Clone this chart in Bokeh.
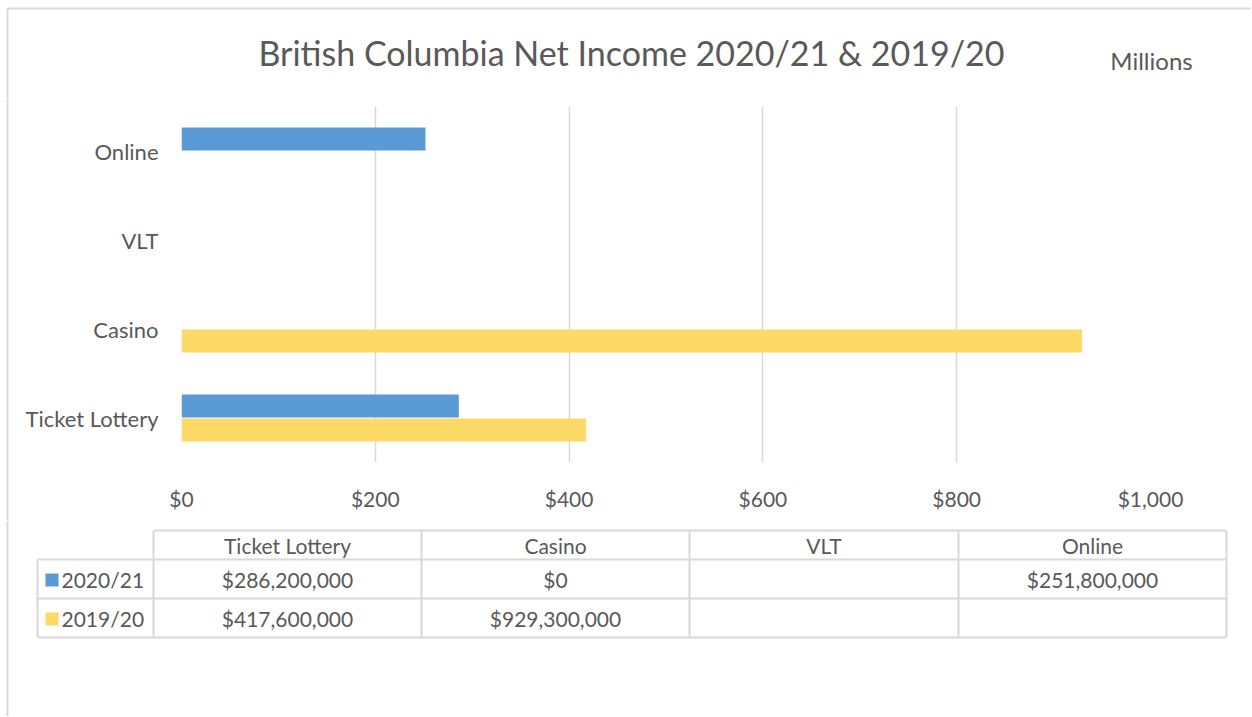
from bokeh.plotting import figure
from bokeh.models import (FactorRange, Range1d, FixedTicker, NumeralTickFormatter,
                          ColumnDataSource)
from bokeh.transform import dodge
from bokeh.layouts import column, row
from bokeh.core.properties import value
from bokeh.embed import file_html
from bokeh.resources import INLINE

# ---------------- data ----------------
categories = ["Ticket Lottery", "Casino", "VLT", "Online"]
series_names = ["2020/21", "2019/20"]
values_2020_21 = [286.2, 0.0, None, 251.8]      # $ millions
values_2019_20 = [417.6, 929.3, None, None]     # $ millions
series_colors = ["#5B9BD5", "#FFD966"]
x_ticks = [0, 200, 400, 600, 800, 1000]
title_text = "British Columbia Net Income 2020/21 & 2019/20"
unit_text = "Millions"

FONT = "Lato"
TXT = "#595959"
GRID = "#D9D9D9"

def nan(v):
    return float("nan") if v is None else v

def money(v):
    return "" if v is None else "${:,.0f}".format(v * 1e6)

def no_align(fig):
    if "frame_align" in fig.properties():
        fig.frame_align = False

def blank(fig):
    fig.outline_line_color = None
    fig.grid.visible = False
    no_align(fig)

W = 1250
H_HEAD, H_CHART, H_TAB = 98, 422, 196
BX, BY = 7, 8      # outer chart border position
STRIP = 10         # width of the left strip next to the chart

# ---------------- header figure (title) ----------------
h = figure(width=W, height=H_HEAD, x_range=Range1d(0, W), y_range=Range1d(H_HEAD, 0),
           output_backend="svg", toolbar_location=None, x_axis_type=None, y_axis_type=None,
           min_border=0)
blank(h)
h.segment(x0=[BX, BX], x1=[W, BX], y0=[BY, BY], y1=[BY, H_HEAD], line_color=GRID, line_width=2)
h.text(x=[631], y=[52], text=[title_text], text_align="center", text_baseline="middle",
       text_font=value(FONT), text_font_size="34px", text_color=TXT)
h.text(x=[1151], y=[60], text=[unit_text], text_align="center", text_baseline="middle",
       text_font=value(FONT), text_font_size="24px", text_color=TXT)

# ---------------- left strip (border beside chart) ----------------
s = figure(width=STRIP, height=H_CHART, x_range=Range1d(0, STRIP), y_range=Range1d(0, H_CHART),
           output_backend="svg", toolbar_location=None, x_axis_type=None, y_axis_type=None,
           min_border=0)
blank(s)
s.segment(x0=[BX], x1=[BX], y0=[0], y1=[H_CHART], line_color=GRID, line_width=2)

# ---------------- chart figure ----------------
p = figure(width=W - STRIP, height=H_CHART, y_range=FactorRange(factors=categories),
           x_range=Range1d(0, 1000), output_backend="svg", toolbar_location=None,
           min_border_left=181 - STRIP, min_border_right=W - 1150, min_border_top=8,
           min_border_bottom=58)
p.outline_line_color = None
no_align(p)

src = ColumnDataSource(dict(cat=categories,
                            a=[nan(v) for v in values_2020_21],
                            b=[nan(v) for v in values_2019_20]))
p.hbar(y=dodge("cat", 0.135, range=p.y_range), right="a", left=0, height=0.26,
       source=src, fill_color=series_colors[0], line_color=None)
p.hbar(y=dodge("cat", -0.135, range=p.y_range), right="b", left=0, height=0.26,
       source=src, fill_color=series_colors[1], line_color=None)

ticker = FixedTicker(ticks=x_ticks)
p.xaxis.ticker = ticker
p.xaxis.formatter = NumeralTickFormatter(format="$0,0")
p.xgrid.ticker = ticker
p.xgrid.grid_line_color = GRID
p.xgrid.grid_line_width = 1.5
p.ygrid.visible = False

for ax in (p.xaxis, p.yaxis):
    ax.axis_line_color = None
    ax.major_tick_line_color = None
    ax.minor_tick_line_color = None
    ax.major_tick_out = 0
    ax.major_tick_in = 0
    ax.minor_tick_out = 0
    ax.major_label_text_font = FONT
    ax.major_label_text_color = TXT
p.xaxis.major_label_text_font_size = "21px"
p.yaxis.major_label_text_font_size = "22px"
p.xaxis.major_label_standoff = 23
p.yaxis.major_label_standoff = 23

# ---------------- data table figure ----------------
Y0 = H_HEAD + H_CHART
t = figure(width=W, height=H_TAB, x_range=Range1d(0, W), y_range=Range1d(Y0 + H_TAB, Y0),
           output_backend="svg", toolbar_location=None, x_axis_type=None, y_axis_type=None,
           min_border=0)
blank(t)

col_x = [153, 421, 689, 958, 1226]
leg_left = 37
y_head_top, y_head_bot, y_r1, y_r2 = 530, 559, 598, 637
row_mid = [(y_head_bot + y_r1) / 2, (y_r1 + y_r2) / 2]
head_mid = (y_head_top + y_head_bot) / 2
col_mid = [(col_x[i] + col_x[i + 1]) / 2 for i in range(len(categories))]

t.segment(x0=[col_x[0], leg_left, leg_left, leg_left], x1=[col_x[-1]] * 4,
          y0=[y_head_top, y_head_bot, y_r1, y_r2], y1=[y_head_top, y_head_bot, y_r1, y_r2],
          line_color=GRID, line_width=2)
t.segment(x0=col_x + [leg_left], x1=col_x + [leg_left],
          y0=[y_head_top] * len(col_x) + [y_head_bot], y1=[y_r2] * (len(col_x) + 1),
          line_color=GRID, line_width=2)
t.segment(x0=[BX], x1=[BX], y0=[Y0], y1=[Y0 + H_TAB], line_color=GRID, line_width=2)

t.text(x=col_mid, y=[head_mid] * len(categories), text=categories,
       text_align="center", text_baseline="middle", text_font=value(FONT),
       text_font_size="21px", text_color=TXT)
cx, cy, ct = [], [], []
for r, vals in enumerate([values_2020_21, values_2019_20]):
    for c, v in enumerate(vals):
        txt = money(v)
        if txt:
            cx.append(col_mid[c]); cy.append(row_mid[r]); ct.append(txt)
t.text(x=cx, y=cy, text=ct, text_align="center", text_baseline="middle",
       text_font=value(FONT), text_font_size="21px", text_color=TXT)
t.rect(x=[51.5, 51.5], y=[row_mid[0] + 1, row_mid[1] + 1], width=13, height=13,
       fill_color=series_colors, line_color=None)
t.text(x=[61, 61], y=[row_mid[0], row_mid[1]], text=series_names, text_align="left",
       text_baseline="middle", text_font=value(FONT), text_font_size="21px", text_color=TXT)

layout = column(h, row(s, p, spacing=0), t, spacing=0)
open("out.html", "w").write(file_html(layout, INLINE))
